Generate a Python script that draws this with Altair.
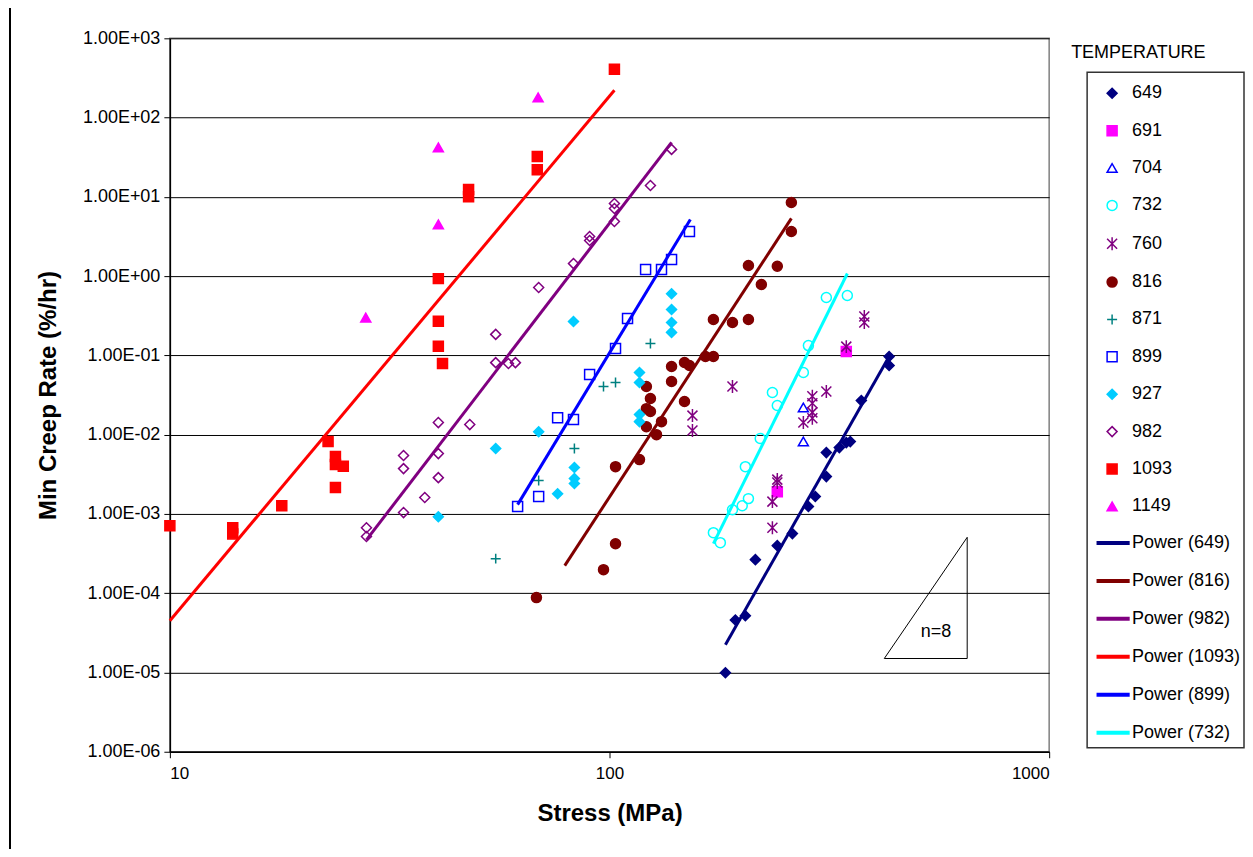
import altair as alt
import pandas as pd

# ---------------- data (stress MPa, min creep rate %/hr) ----------------
temps = ["649", "691", "704", "732", "760", "816", "871", "899", "927", "982", "1093", "1149"]

s_649 = [183.5, 193.3, 203.7, 214.7, 240.8, 260.6, 283.4, 293.8, 311.3, 311.3, 333.2, 345.6, 352.9, 373.9, 432.5, 432.5]
r_649 = [9.9e-6, 4.6e-5, 5.2e-5, 2.65e-4, 3.98e-4, 5.65e-4, 1.24e-3, 1.66e-3, 2.96e-3, 5.94e-3, 6.87e-3, 7.94e-3, 8.18e-3, 0.0269, 0.0968, 0.0745]

s_691 = [240.8, 345.6]
r_691 = [0.00191, 0.112]

s_704 = [276, 276]
r_704 = [0.022, 0.0082]

s_732 = [172.3, 178.7, 190.4, 200.4, 207, 203.7, 220.2, 240.8, 234.7, 276, 283.4, 311.3, 347.5]
r_732 = [5.8e-4, 4.34e-4, 1.13e-3, 1.27e-3, 1.56e-3, 3.95e-3, 8.93e-3, 0.0233, 0.034, 0.0608, 0.133, 0.538, 0.57]

s_760 = [154.4, 154.4, 190.4, 240.8, 240.8, 234.7, 234.7, 276, 289.3, 289.3, 289.3, 289.3, 311.3, 345.6, 379.8, 379.8]
r_760 = [0.0174, 0.0113, 0.0405, 0.00271, 0.00249, 0.00143, 6.7e-4, 0.0142, 0.0305, 0.0249, 0.0191, 0.0161, 0.035, 0.129, 0.31, 0.26]

s_816 = [68.2, 96.9, 103.2, 103.2, 117, 121.3, 123.9, 121.3, 123.9, 121.3, 131.3, 127.9, 138.4, 138.4, 148.1, 148.1,
         152, 165.3, 172.3, 172.3, 190.4, 207, 221.5, 207, 240.8, 259.2, 259.2]
r_816 = [8.8e-5, 1.98e-4, 4.2e-4, 0.00395, 0.00485, 0.0405, 0.0286, 0.0213, 0.0196, 0.0126, 0.0146, 0.01, 0.0724, 0.0468, 0.0262, 0.0813,
         0.0745, 0.0968, 0.0968, 0.284, 0.26, 0.284, 0.785, 1.36, 1.33, 3.66, 8.5]

s_871 = [55.1, 69.0, 83.2, 96.9, 103.2, 123.9]
r_871 = [2.73e-4, 2.64e-3, 6.7e-3, 0.0405, 0.0455, 0.141]

s_899 = [61.8, 69.0, 76.2, 82.8, 90.1, 103.2, 109.9, 120.8, 131.3, 138.4, 152]
r_899 = [0.00124, 0.00166, 0.0164, 0.0155, 0.0574, 0.122, 0.292, 1.21, 1.21, 1.62, 3.66]

s_927 = [40.8, 55.1, 69.0, 76.2, 83.2, 83.2, 83.2, 82.8, 117, 117, 117, 117, 138.4, 138.4, 138.4, 138.4]
r_927 = [9.2e-4, 6.7e-3, 0.0109, 0.0018, 0.00385, 0.00279, 0.00242, 0.268, 0.0608, 0.0455, 0.0179, 0.0146, 0.60, 0.38, 0.26, 0.195]

s_982 = [28.0, 28.0, 34.0, 34.0, 34.0, 38.0, 40.8, 40.8, 40.8, 48.1, 55.1, 55.1, 58.9, 61.1,
         69.0, 82.8, 90.1, 90.1, 102.6, 102.6, 102.6, 123.9, 138.4]
r_982 = [6.7e-4, 5.2e-4, 0.00545, 0.00373, 0.00104, 0.00161, 0.0142, 0.00577, 0.00287, 0.0134, 0.184, 0.081, 0.079, 0.081,
         0.72, 1.44, 3.16, 2.82, 8.26, 7.14, 4.9, 13.9, 39.7]

s_1093 = [10.0, 13.9, 13.9, 17.97, 22.9, 23.8, 23.8, 23.8, 24.8, 40.8, 40.8, 40.8, 41.7, 47.8, 47.8, 68.5, 68.5, 102.6]
r_1093 = [7.1e-4, 6.7e-4, 5.6e-4, 1.27e-3, 8.2e-3, 5.3e-3, 4.2e-3, 2.15e-3, 4.0e-3, 0.93, 0.27, 0.13, 0.079, 12.4, 10.0, 32.4, 22.0, 406]

s_1149 = [27.9, 40.8, 40.8, 68.8]
r_1149 = [0.30, 42, 4.5, 180]

# power-law trend lines: (start stress, start rate, end stress, end rate)
fit_names = ["Power (649)", "Power (816)", "Power (982)", "Power (1093)", "Power (899)", "Power (732)"]
fit_s0 = [183.5, 79.1, 28.0, 10.0, 61.8, 172.3]
fit_r0 = [2.24e-5, 2.23e-4, 4.7e-4, 4.5e-5, 0.00131, 4.22e-4]
fit_s1 = [432.5, 259.2, 138.4, 102.6, 152.7, 347.5]
fit_r1 = [0.0968, 5.35, 48.7, 221, 5.19, 1.08]

# slope triangle annotation
tri_s = [421.7, 651.0, 651.0, 421.7]
tri_r = [1.5e-5, 1.5e-5, 5.07e-4, 1.5e-5]
tri_label = "n=8"
tri_label_s = 553
tri_label_r = 3.2e-5

x_ticks = [10, 100, 1000]
y_ticks = [1e-6, 1e-5, 1e-4, 1e-3, 1e-2, 1e-1, 1e0, 1e1, 1e2, 1e3]

# ---------------- styles ----------------
point_colors = ["#000080", "#FF00FF", "#0000FF", "#00FFFF", "#800080", "#800000",
                "#008080", "#0000FF", "#00CCFF", "#800080", "#FF0000", "#FF00FF"]
point_fills = ["#000080", "#FF00FF", "transparent", "transparent", "transparent", "#800000",
               "transparent", "transparent", "#00CCFF", "transparent", "#FF0000", "#FF00FF"]
asterisk = "M-1,-1L1,1M-1,1L1,-1M0,-1.3L0,1.3"
plus = "M-1,0L1,0M0,-1L0,1"
point_shapes = ["diamond", "square", "triangle-up", "circle", asterisk, "circle",
                plus, "square", "diamond", "diamond", "square", "triangle-up"]
fit_colors = ["#000080", "#800000", "#800080", "#FF0000", "#0000FF", "#00FFFF"]

# ---------------- tables ----------------
series = {
    "649": (s_649, r_649), "691": (s_691, r_691), "704": (s_704, r_704), "732": (s_732, r_732),
    "760": (s_760, r_760), "816": (s_816, r_816), "871": (s_871, r_871), "899": (s_899, r_899),
    "927": (s_927, r_927), "982": (s_982, r_982), "1093": (s_1093, r_1093), "1149": (s_1149, r_1149),
}
rows = []
for t in temps:
    ss, rr = series[t]
    for a, b in zip(ss, rr):
        rows.append({"temp": t, "S": a, "R": b})
pts = pd.DataFrame(rows)

fit_rows = []
for n, a0, b0, a1, b1 in zip(fit_names, fit_s0, fit_r0, fit_s1, fit_r1):
    fit_rows.append({"fit": n, "S": a0, "R": b0})
    fit_rows.append({"fit": n, "S": a1, "R": b1})
fits = pd.DataFrame(fit_rows)

tri = pd.DataFrame({"S": tri_s, "R": tri_r, "o": list(range(len(tri_s)))})
lab = pd.DataFrame({"S": [tri_label_s], "R": [tri_label_r], "t": [tri_label]})
one = pd.DataFrame({"k": [0]})

FONT = "Liberation Sans"

xscale = alt.Scale(type="log", domain=[10, 1000], nice=False)
yscale = alt.Scale(type="log", domain=[1e-6, 1e3], nice=False)

y_label_expr = ("'1.00E' + (datum.value < 1 ? '-' : '+') + "
                "(abs(round(log(datum.value)/LN10)) < 10 ? '0' : '') + abs(round(log(datum.value)/LN10))")

x_enc = alt.X("S:Q", scale=xscale,
              axis=alt.Axis(values=x_ticks, format="d", title="Stress (MPa)", grid=False,
                            labelFontSize=17, titleFontSize=24, titleFontWeight="bold",
                            labelPadding=8, titlePadding=20, tickSize=6,
                            domainColor="black", tickColor="black", domainWidth=1.5))
y_enc = alt.Y("R:Q", scale=yscale,
              axis=alt.Axis(values=y_ticks, labelExpr=y_label_expr, title="Min Creep Rate (%/hr)",
                            grid=True, gridColor="black", gridWidth=1,
                            labelFontSize=18, titleFontSize=24, titleFontWeight="bold",
                            labelPadding=4, titlePadding=22, tickSize=6,
                            domainColor="black", tickColor="black", domainWidth=1.5))

points = alt.Chart(pts).mark_point(size=100, strokeWidth=1.5, filled=False, opacity=1).encode(
    x=x_enc, y=y_enc,
    shape=alt.Shape("temp:N", scale=alt.Scale(domain=temps, range=point_shapes),
                    legend=alt.Legend(orient="none", legendX=902, legendY=6, title="TEMPERATURE",
                                      titleFontSize=18, titleFontWeight="normal", titlePadding=22,
                                      labelFontSize=18, symbolOffset=32, labelOffset=11,
                                      rowPadding=19.4, symbolStrokeWidth=1.5, symbolSize=100)),
    fill=alt.Fill("temp:N", scale=alt.Scale(domain=temps, range=point_fills)),
    stroke=alt.Stroke("temp:N", scale=alt.Scale(domain=temps, range=point_colors)),
)

lines = alt.Chart(fits).mark_line(strokeWidth=3).encode(
    x="S:Q", y="R:Q",
    color=alt.Color("fit:N", scale=alt.Scale(domain=fit_names, range=fit_colors),
                    legend=alt.Legend(orient="none", legendX=910, legendY=486, title=None,
                                      labelFontSize=18, symbolType="stroke", symbolSize=1100,
                                      symbolStrokeWidth=4, symbolOffset=15, labelOffset=0,
                                      rowPadding=10)),
)

triangle = alt.Chart(tri).mark_line(color="black", strokeWidth=1).encode(
    x="S:Q", y="R:Q", order="o:Q")

tri_text = alt.Chart(lab).mark_text(fontSize=18, color="black").encode(
    x="S:Q", y="R:Q", text="t:N")

legend_box = alt.Chart(one).mark_rect(fill="transparent", stroke="#333333", strokeWidth=1.5).encode(
    x=alt.value(918), x2=alt.value(1075), y=alt.value(34), y2=alt.value(710))

outer_border = alt.Chart(one).mark_rect(fill="transparent", stroke="black", strokeWidth=2).encode(
    x=alt.value(-160), x2=alt.value(1200), y=alt.value(-100), y2=alt.value(900))

chart = alt.layer(outer_border, legend_box, points, lines, triangle, tri_text).properties(
    width=880, height=714,
    autosize=alt.AutoSizeParams(type="none"),
    padding={"left": 162, "top": 30, "right": 196, "bottom": 97},
).configure(font=FONT).configure_view(
    stroke="#808080", strokeWidth=1.5
).configure_axis(labelColor="black", titleColor="black", labelFont=FONT, titleFont=FONT
).configure_legend(labelColor="black", titleColor="black", labelFont=FONT, titleFont=FONT)

chart.save("out.html", embed_options={"renderer": "svg", "actions": False})
